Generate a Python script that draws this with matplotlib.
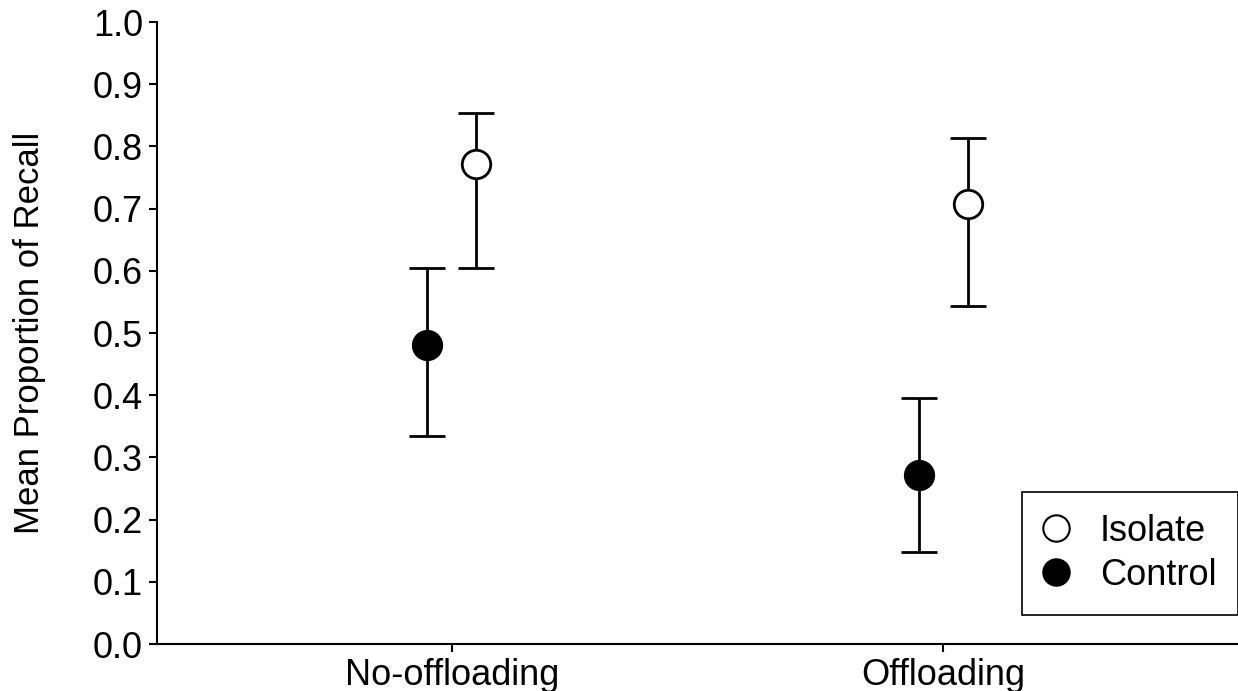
import matplotlib.pyplot as plt
from matplotlib.lines import Line2D
import numpy as np

plt.rcParams['font.family'] = ['Liberation Sans', 'DejaVu Sans']

conditions = ["No-offloading", "Offloading"]
groups = ["Isolate", "Control"]

# means and interval bounds
isolate_mean = [0.772, 0.708]
isolate_low = [0.605, 0.543]
isolate_high = [0.854, 0.814]

control_mean = [0.480, 0.271]
control_low = [0.334, 0.148]
control_high = [0.605, 0.396]

fig = plt.figure(figsize=(12.38, 6.91), dpi=100)
ax = fig.add_axes([0.1268, 0.068, 0.8732, 0.900])

x = np.arange(len(conditions))
off = 0.05


def draw(xpos, mean, low, high, face):
    mean = np.array(mean)
    yerr = [mean - np.array(low), np.array(high) - mean]
    ax.errorbar(xpos, mean, yerr=yerr, fmt="o", color="black",
                markerfacecolor=face, markeredgecolor="black",
                markersize=20.5, markeredgewidth=2, elinewidth=2,
                capsize=13, capthick=2, zorder=3)


draw(x - off, control_mean, control_low, control_high, "black")
draw(x + off, isolate_mean, isolate_low, isolate_high, "white")

ax.set_xlim(-0.6, 1.6)
ax.set_ylim(0, 1.0)
ax.set_yticks(np.arange(0, 1.01, 0.1))
ax.set_yticklabels([f"{v:.1f}" for v in np.arange(0, 1.01, 0.1)])
ax.set_xticks(x)
ax.set_xticklabels(conditions)
ax.tick_params(labelsize=26, width=1.5, length=6, pad=4)
ax.set_ylabel("Mean Proportion of Recall", fontsize=25, labelpad=34)

for s in ["top", "right"]:
    ax.spines[s].set_visible(False)
for s in ["left", "bottom"]:
    ax.spines[s].set_linewidth(1.5)

handles = [
    Line2D([], [], marker="o", linestyle="none", markersize=19,
           markerfacecolor="white", markeredgecolor="black", markeredgewidth=1.5),
    Line2D([], [], marker="o", linestyle="none", markersize=19,
           markerfacecolor="black", markeredgecolor="black", markeredgewidth=1.5),
]
leg = fig.legend(handles, groups, loc="upper left",
                 bbox_to_anchor=(1022 / 1238, 1 - 492 / 691),
                 fontsize=26, frameon=True, fancybox=False, edgecolor="black",
                 framealpha=1, handletextpad=0.85, labelspacing=0.26,
                 borderpad=0.6, borderaxespad=0, handlelength=0.7)
leg.get_frame().set_linewidth(1.2)

fig.savefig("out.png", dpi=100)
